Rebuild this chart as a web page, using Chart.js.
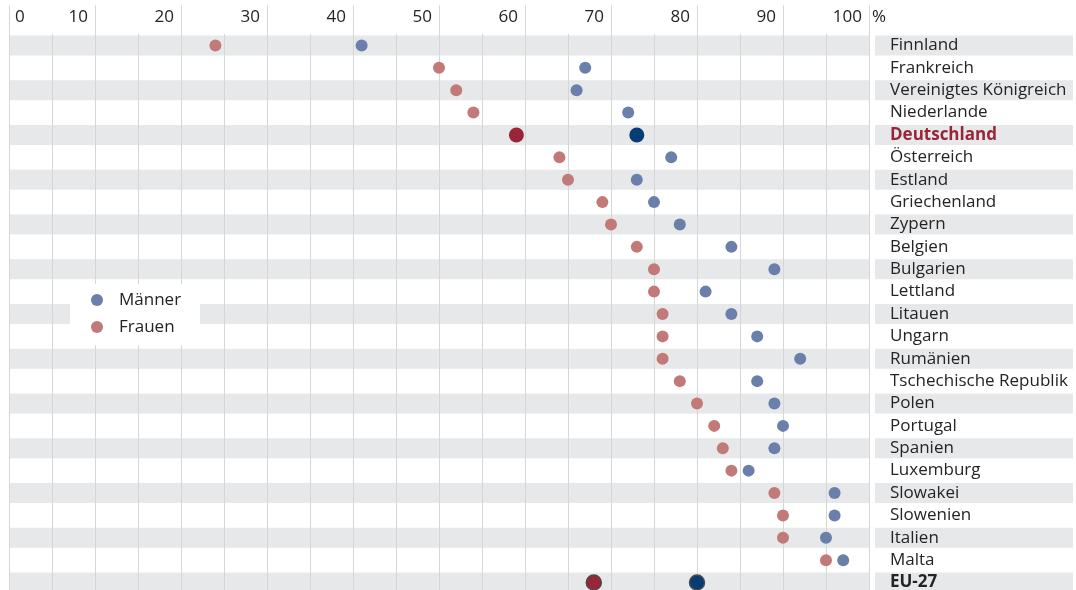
<!DOCTYPE html>
<html lang="de">
<head>
<meta charset="utf-8">
<script src="https://cdn.jsdelivr.net/npm/chart.js@4.4.0/dist/chart.umd.min.js"></script>
<style>
  html, body { margin: 0; padding: 0; background: #fff; overflow: hidden; }
  #wrap { position: relative; width: 1076px; height: 604px; }
</style>
</head>
<body>
<div id="wrap"><canvas id="gapChart"></canvas></div>
<script>
const countries = [
  'Finnland', 'Frankreich', 'Vereinigtes Königreich', 'Niederlande', 'Deutschland',
  'Österreich', 'Estland', 'Griechenland', 'Zypern', 'Belgien', 'Bulgarien',
  'Lettland', 'Litauen', 'Ungarn', 'Rumänien', 'Tschechische Republik', 'Polen',
  'Portugal', 'Spanien', 'Luxemburg', 'Slowakei', 'Slowenien', 'Italien', 'Malta', 'EU-27'
];
const maenner = [41, 67, 66, 72, 73, 77, 73, 75, 78, 84, 89, 81, 84, 87, 92, 87, 89, 90, 89, 86, 96, 96, 95, 97, 80];
const frauen  = [24, 50, 52, 54, 59, 64, 65, 69, 70, 73, 75, 75, 76, 76, 76, 78, 80, 82, 83, 84, 89, 90, 90, 95, 68];
const xTicks = [0, 10, 20, 30, 40, 50, 60, 70, 80, 90, 100];
const highlight = 'Deutschland';
const total = 'EU-27';

const FONT = '"Open Sans", "Noto Sans", sans-serif';
const TEXT = '#242424';

const isSpecial = c => c === highlight || c === total;
const fills = (base, hi) => countries.map(c => isSpecial(c) ? hi : base);

// gray row bands, header numbers and the small legend box
const backdrop = {
  id: 'backdrop',
  beforeDraw(chart) {
    const { ctx, chartArea: a, scales: { y } } = chart;
    ctx.save();
    ctx.fillStyle = '#e7e8ea';
    countries.forEach((c, i) => {
      if (i % 2) return;
      const cy = y.getPixelForValue(i);
      ctx.fillRect(a.left, cy - 10, a.right - a.left, 20);
      ctx.fillRect(875, cy - 10, 198, 20);
    });
    ctx.restore();
  },
  afterDraw(chart) {
    const { ctx, scales: { x } } = chart;
    ctx.save();
    ctx.font = '17px ' + FONT;
    ctx.fillStyle = TEXT;
    ctx.textBaseline = 'middle';
    xTicks.forEach(v => {
      const px = x.getPixelForValue(v);
      if (v === 0) {
        ctx.textAlign = 'left';
        ctx.fillText(String(v), px + 6, 17);
      } else {
        ctx.textAlign = 'right';
        ctx.fillText(String(v), px - 7, 17);
      }
    });
    ctx.textAlign = 'left';
    ctx.fillText('%', x.getPixelForValue(100) + 3, 17);

    ctx.fillStyle = '#fff';
    ctx.fillRect(70, 284, 130, 61);
    chart.data.datasets.forEach((ds, i) => {
      const ly = 300 + i * 27;
      ctx.beginPath();
      ctx.arc(97, ly, 6, 0, Math.PI * 2);
      ctx.fillStyle = ds.baseColor;
      ctx.fill();
      ctx.fillStyle = TEXT;
      ctx.fillText(ds.label, 119, ly);
    });
    ctx.restore();
  }
};

const ctx = document.getElementById('gapChart').getContext('2d');

new Chart(ctx, {
  type: 'line',
  data: {
    labels: countries,
    datasets: [
      {
        label: 'Männer',
        data: maenner,
        baseColor: '#6a7fa9',
        showLine: false,
        pointBackgroundColor: fills('#6a7fa9', '#073d73'),
        pointBorderColor: countries.map(c => c === total ? '#4a4a4a' : 'rgba(0,0,0,0)'),
        pointBorderWidth: countries.map(c => c === total ? 1.5 : 0),
        pointRadius: countries.map(c => isSpecial(c) ? 7.5 : 6),
      },
      {
        label: 'Frauen',
        data: frauen,
        baseColor: '#c27a78',
        showLine: false,
        pointBackgroundColor: fills('#c27a78', '#9a2538'),
        pointBorderColor: countries.map(c => c === total ? '#4a4a4a' : 'rgba(0,0,0,0)'),
        pointBorderWidth: countries.map(c => c === total ? 1.5 : 0),
        pointRadius: countries.map(c => isSpecial(c) ? 7.5 : 6),
      }
    ]
  },
  options: {
    indexAxis: 'y',
    responsive: true,
    maintainAspectRatio: false,
    animation: false,
    layout: { padding: { top: 5.3, left: 6.7, right: 0, bottom: 10.3 } },
    scales: {
      x: {
        type: 'linear',
        position: 'top',
        min: 0,
        max: 100,
        ticks: { display: false, stepSize: 5 },
        border: { display: false },
        grid: {
          color: '#d6d6d6',
          lineWidth: 1,
          drawTicks: true,
          tickLength: 29,
          tickColor: c => (c.tick && c.tick.value % 10 === 0) ? '#d6d6d6' : 'rgba(0,0,0,0)',
        },
      },
      y: {
        type: 'category',
        position: 'right',
        offset: true,
        border: { display: false },
        grid: {
          display: true,
          drawOnChartArea: false,
          drawTicks: true,
          tickLength: 21,
          tickColor: 'rgba(0,0,0,0)',
        },
        ticks: {
          autoSkip: false,
          padding: 0,
          color: c => countries[c.index] === highlight ? '#9a2538' : TEXT,
          font: c => ({ family: FONT, size: 17, weight: isSpecial(countries[c.index]) ? 'bold' : 'normal' }),
        },
        afterFit(scale) { scale.width = 207; },
      },
    },
    plugins: {
      legend: { display: false },
      tooltip: { enabled: false },
    },
  },
  plugins: [backdrop],
});
</script>
</body>
</html>
